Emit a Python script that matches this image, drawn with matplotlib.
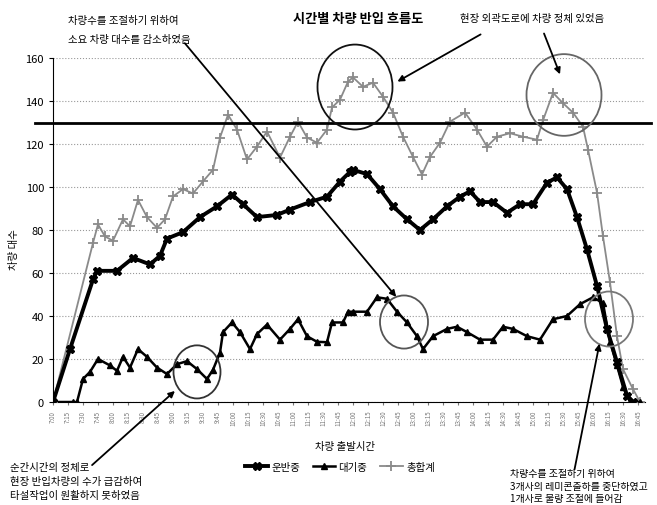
import matplotlib
matplotlib.use("Agg")
import matplotlib.pyplot as plt
from matplotlib.patches import Ellipse

plt.rcParams['font.family'] = ['Noto Sans CJK KR', 'DejaVu Sans']

# minutes after 07:00 and vehicle counts
t_wait = [0, 20, 24, 30, 37, 45, 57, 64, 70, 77, 85, 94, 104, 114, 124, 134, 144, 154, 160, 167,
          170, 179, 187, 197, 204, 214, 227, 237, 245, 254, 264, 274, 279, 290, 295, 300, 314, 324,
          334, 344, 354, 364, 370, 380, 394, 404, 414, 427, 440, 450, 460, 474, 487, 500, 514, 527,
          540, 550, 557, 564, 570, 577, 587]
v_wait = [0, 0, 0, 10.7, 14, 20, 17, 14.5, 21, 16, 24.6, 21, 16, 13, 17.6, 19, 15.3, 10.7, 15, 23,
          32.5, 37, 32.5, 24.6, 31.6, 36, 29, 34, 38.5, 30.6, 28, 27.8, 37, 37, 42, 42, 42, 48.7,
          48, 42, 37, 30.6, 24.6, 30.6, 34, 35, 32.5, 29, 29, 35, 34, 30.6, 29, 38.5, 40, 45.5,
          48.7, 46, 28, 17, 7, 0, 0]

t_move = [0, 17, 40, 44, 64, 80, 97, 107, 114, 130, 147, 164, 179, 190, 204, 224, 237, 257, 274,
          287, 297, 300, 314, 327, 340, 354, 367, 380, 394, 407, 417, 427, 440, 454, 467, 480, 494,
          504, 514, 524, 534, 544, 554, 564, 574, 580]
v_move = [0, 24.6, 57, 61, 61, 67, 64, 68, 76, 79, 86, 91, 96.5, 92, 86, 87, 89.5, 93, 95.5,
          102.5, 107, 108, 106, 99, 91, 85, 80, 85, 91, 95.5, 98, 93, 93, 88, 92, 92, 102,
          104.5, 99, 86, 71, 54, 34, 18.5, 3, 0]

t_total = [0, 40, 45, 52, 60, 70, 77, 85, 94, 104, 112, 120, 130, 140, 150, 160, 167, 175, 184,
           194, 204, 214, 227, 237, 245, 254, 264, 274, 279, 287, 295, 300, 310, 320, 330, 340,
           350, 360, 369, 377, 387, 397, 412, 424, 434, 444, 457, 470, 484, 490, 500, 510, 520,
           530, 535, 544, 550, 557, 564, 570, 580, 587]
v_total = [0, 74, 82.6, 77, 75, 85, 81.7, 94, 86, 81, 85, 95.6, 99, 97, 102.6, 108, 123, 133.6,
           126.7, 112.8, 118.8, 125.8, 113.7, 123.4, 130.4, 123, 120.6, 126.7, 137, 140.6, 149,
           151, 146.6, 148.5, 142, 134.6, 123.4, 114, 105.8, 114, 120.6, 130.4, 134.6, 126.7,
           118.8, 123.4, 125, 123.4, 122, 131, 143.8, 139, 134.6, 128, 117.4, 97.4, 77, 55.7,
           30.6, 15.3, 6, 0]

limit_line = 130
tick_minutes = list(range(0, 586, 15))
tick_labels = [f"{7 + m // 60}:{m % 60:02d}" for m in tick_minutes]

W, H = 657, 506
fig = plt.figure(figsize=(W / 100, H / 100), dpi=100)
ax = fig.add_axes([53 / W, 1 - 403 / H, 592 / W, 344 / H])

ax.plot(t_total, v_total, color='#8a8a8a', lw=1.3, marker='+', ms=6.5, mew=1.3, label='총합계', zorder=3)
ax.plot(t_move, v_move, color='black', lw=2.8, marker='X', ms=6, label='운반중', zorder=4)
ax.plot(t_wait, v_wait, color='black', lw=1.8, marker='^', ms=4.5, label='대기중', zorder=4)

ax.plot([-0.03, 1.01], [limit_line, limit_line], color='black', lw=2,
        transform=ax.get_yaxis_transform(), clip_on=False, zorder=5)

ax.set_xlim(0, 592)
ax.set_ylim(0, 160)
ax.set_yticks(range(0, 161, 20))
ax.tick_params(axis='y', labelsize=8, length=3)
ax.set_xticks(tick_minutes)
ax.set_xticklabels(tick_labels, rotation=90, fontsize=4.5, color='#777')
ax.tick_params(axis='x', length=2, color='#777')
ax.yaxis.grid(True, linestyle=':', color='#999', lw=0.8)
for s in ['top', 'right']:
    ax.spines[s].set_visible(False)

# circles
circles = [(144, 14, 47, 24.7, '#333'), (302, 146.5, 75, 39.5, '#111'), (511, 142.8, 75, 38, '#666'),
           (351, 37.2, 48, 24.7, '#555'), (556, 38.6, 48, 25.6, '#777')]
for cx, cy, w, h, c in circles:
    ax.add_patch(Ellipse((cx, cy), w, h, fill=False, ec=c, lw=1.3, zorder=6, clip_on=False))

arrows = [((130, 167.9), (345, 47.9)), ((430, 171.6), (342, 148.4)), ((490, 172.6), (508, 151.2)),
          ((37, -30.2), (124, 6)), ((521, -32.6), (547, 28.4))]
for start, end in arrows:
    ax.annotate('', xy=end, xytext=start, annotation_clip=False,
                arrowprops=dict(arrowstyle='-|>', color='black', lw=1.3, mutation_scale=9), zorder=7)

def ftext(x, y, s, **kw):
    fig.text(x / W, 1 - y / H, s, va='center', **kw)

ftext(358, 19, '시간별 차량 반입 흐름도', ha='center', fontsize=9.5, fontweight='bold')
ftext(68, 21, '차량수를 조절하기 위하여', fontsize=7.5)
ftext(68, 40, '소요 차량 대수를 감소하였음', fontsize=7.5)
ftext(460, 19, '현장 외곽도로에 차량 정체 있었음', fontsize=7.5)
ftext(10, 468, '순간시간의 정체로', fontsize=7.5)
ftext(10, 482, '현장 반입차량의 수가 급감하여', fontsize=7.5)
ftext(10, 496, '타설작업이 원활하지 못하였음', fontsize=7.5)
ftext(510, 474, '차량수를 조절하기 위하여', fontsize=7.2)
ftext(510, 487, '3개사의 레미콘출하를 중단하였고', fontsize=7.2)
ftext(510, 499, '1개사로 물량 조절에 들어감', fontsize=7.2)
ftext(345, 447, '차량 출발시간', ha='center', fontsize=7.5)
fig.text(14 / W, 1 - 250 / H, '차량 대수', rotation=90, va='center', ha='center', fontsize=7.5)

h, l = ax.get_legend_handles_labels()
order = [1, 2, 0]
fig.legend([h[i] for i in order], [l[i] for i in order], loc='center', ncol=3,
           bbox_to_anchor=(340 / W, 1 - 468 / H), frameon=False, fontsize=7.5,
           handlelength=2.2, columnspacing=1.2, handletextpad=0.3)

fig.savefig('out.png', dpi=100)
